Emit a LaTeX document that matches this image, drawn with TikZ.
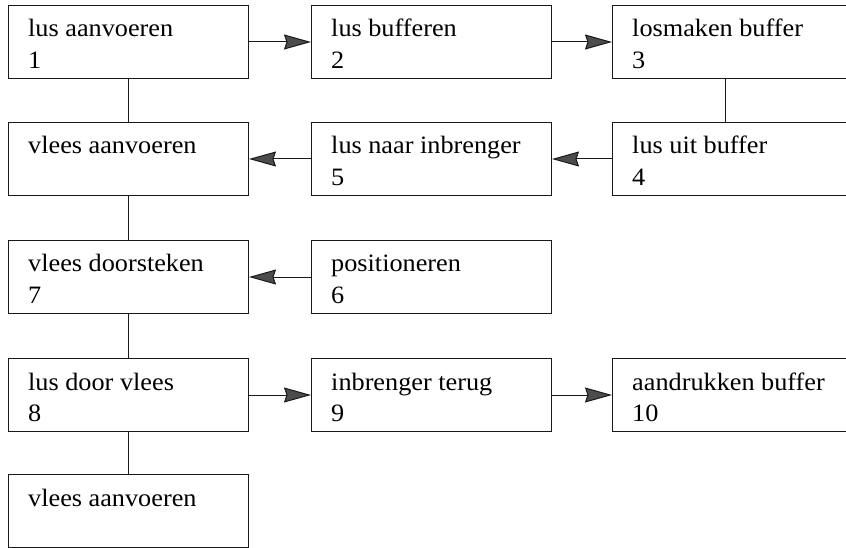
\documentclass[tikz,border=0pt]{standalone}
\usepackage{fontspec}
\setmainfont{Liberation Serif}[FakeStretch=1.05]
\usetikzlibrary{arrows.meta}
\tikzset{
  flowbox/.style={draw=black!90, line width=1pt, minimum width=240pt, minimum height=73pt, inner sep=0pt, anchor=north west},
  boxtext/.style={anchor=base west, inner sep=0pt, font=\fontsize{25}{30}\selectfont, text=black},
  link/.style={draw=black!90, line width=1pt},
  arr/.style={link, -{Stealth[length=27pt, width=15pt, inset=2.5pt, fill=black!70]}}
}
\newcommand{\flowstep}[5]{%
  \node[flowbox] (#1) at (#2,#3) {};
  \node[boxtext] (#1-a) at ([shift={(20pt,-32pt)}]#1.north west) {#4};
  \node[boxtext] (#1-b) at ([shift={(20pt,-63.5pt)}]#1.north west) {#5};
}
\begin{document}
\begin{tikzpicture}[x=1pt, y=-1pt]
\useasboundingbox (0,0) rectangle (846,548);
\fill[white] (0,0) rectangle (846,548);
% row 1
\flowstep{b1}{8}{5}{lus aanvoeren}{1}
\flowstep{b2}{311}{5}{lus bufferen}{2}
\flowstep{b3}{612}{5}{losmaken buffer}{3}
% row 2
\flowstep{va}{8}{122}{vlees aanvoeren}{}
\flowstep{b5}{311}{122}{lus naar inbrenger}{5}
\flowstep{b4}{612}{122}{lus uit buffer}{4}
% row 3
\flowstep{b7}{8}{240}{vlees doorsteken}{7}
\flowstep{b6}{311}{240}{positioneren}{6}
% row 4
\flowstep{b8}{8}{358}{lus door vlees}{8}
\flowstep{b9}{311}{358}{inbrenger terug}{9}
\flowstep{b10}{612}{358}{aandrukken buffer}{10}
% row 5
\flowstep{vb}{8}{474}{vlees aanvoeren}{}
% connectors
\draw[arr] (b1.east) -- (b2.west);
\draw[arr] (b2.east) -- (b3.west);
\draw[link] ([xshift=113pt]b3.south west) -- ([xshift=113pt]b4.north west);
\draw[arr] (b4.west) -- (b5.east);
\draw[arr] (b5.west) -- (va.east);
\draw[link] (b1.south) -- (va.north);
\draw[link] (va.south) -- (b7.north);
\draw[arr] (b6.west) -- (b7.east);
\draw[link] (b7.south) -- (b8.north);
\draw[arr] (b8.east) -- (b9.west);
\draw[arr] (b9.east) -- (b10.west);
\draw[link] (b8.south) -- (vb.north);
\end{tikzpicture}
\end{document}
